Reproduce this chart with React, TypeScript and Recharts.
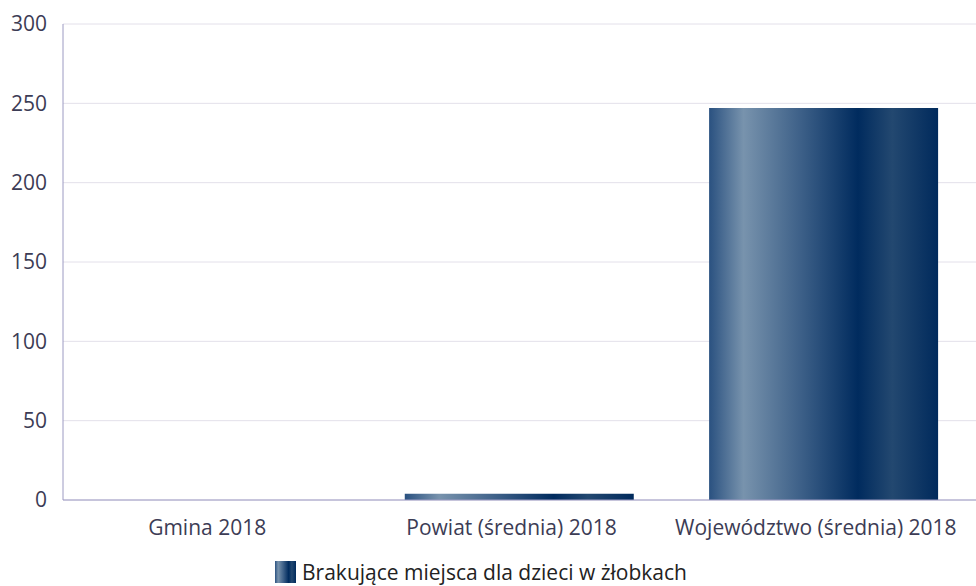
import { BarChart, Bar, XAxis, YAxis, CartesianGrid, Legend } from 'recharts'

const categories = ['Gmina 2018', 'Powiat (średnia) 2018', 'Województwo (średnia) 2018']
const values = [0, 4, 247]
const yTicks = [0, 50, 100, 150, 200, 250, 300]
const seriesName = 'Brakujące miejsca dla dzieci w żłobkach'

const data = categories.map((name, i) => ({ name, value: values[i] }))

const FONT = '"Open Sans", sans-serif'

const renderLegend = () => (
    <div style={{ display: 'flex', alignItems: 'center', justifyContent: 'center', marginLeft: -14 }}>
        <svg width={21} height={22} style={{ marginRight: 6 }}>
            <rect x={0} y={0} width={21} height={22} fill="url(#barGrad)" />
        </svg>
        <span style={{ fontFamily: FONT, fontSize: 21, color: '#222' }}>{seriesName}</span>
    </div>
)

export default function App() {
    return (
        <div style={{ position: 'absolute', left: 0, top: 0, width: 976, height: 586, background: '#fff' }}>
            <BarChart
                width={976}
                height={586}
                data={data}
                margin={{ top: 24, right: 0, bottom: 0, left: 0 }}
                barCategoryGap="12.3%"
            >
                <defs>
                    <linearGradient id="barGrad" x1="0" y1="0" x2="1" y2="0">
                        <stop offset="0%" stopColor="#2a5180" />
                        <stop offset="15%" stopColor="#7893ad" />
                        <stop offset="40%" stopColor="#3d6088" />
                        <stop offset="65%" stopColor="#002b5e" />
                        <stop offset="80%" stopColor="#234870" />
                        <stop offset="100%" stopColor="#002a5c" />
                    </linearGradient>
                </defs>
                <CartesianGrid vertical={false} stroke="#e3e0ea" />
                <XAxis
                    dataKey="name"
                    height={58}
                    tickLine={false}
                    tickMargin={14}
                    axisLine={{ stroke: '#9c9ac2' }}
                    tick={{ fill: '#3c3c55', fontSize: 21, fontFamily: FONT, dx: -8 }}
                    interval={0}
                />
                <YAxis
                    width={63}
                    domain={[0, 300]}
                    ticks={yTicks}
                    tickLine={false}
                    tickMargin={10}
                    axisLine={{ stroke: '#9c9ac2' }}
                    tick={{ fill: '#3c3c55', fontSize: 21, fontFamily: FONT }}
                />
                <Legend verticalAlign="bottom" content={renderLegend} wrapperStyle={{ bottom: 0 }} />
                <Bar dataKey="value" name={seriesName} fill="url(#barGrad)" isAnimationActive={false} />
            </BarChart>
        </div>
    )
}
